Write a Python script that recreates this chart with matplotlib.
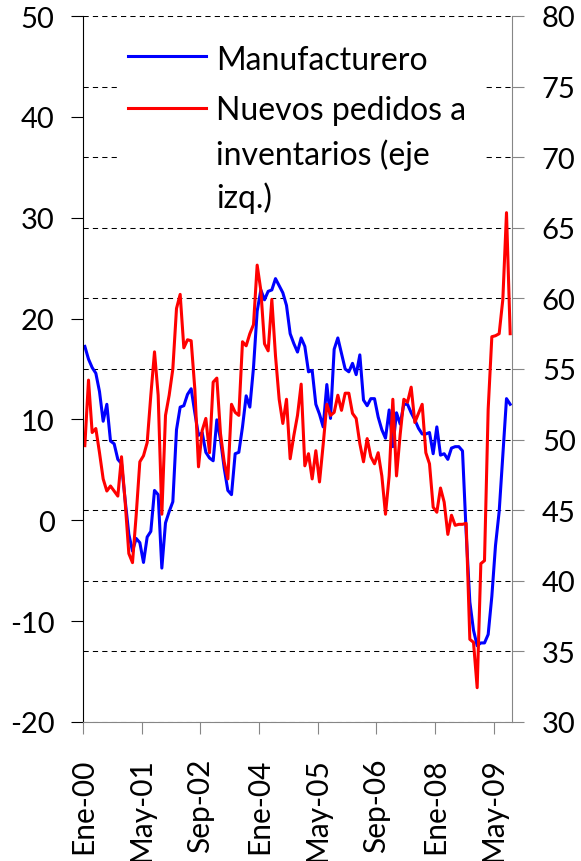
import numpy as np
import matplotlib
matplotlib.use("Agg")
import matplotlib.pyplot as plt
from matplotlib.patches import Rectangle
from matplotlib.lines import Line2D

plt.rcParams['font.family'] = ['Lato', 'DejaVu Sans']
plt.rcParams['axes.unicode_minus'] = False

# monthly data, Ene-2000 .. Sep-2009
manufacturero = [
    56.6, 55.7, 55.1, 54.7, 53.4, 51.3, 52.5, 49.9, 49.7, 48.6, 48.3, 45.7,
    43.3, 42.1, 43.0, 42.7, 41.3, 43.1, 43.5, 46.4, 46.1, 40.9, 44.1, 44.9,
    45.6, 50.7, 52.3, 52.4, 53.2, 53.6, 51.9, 50.3, 50.5, 49.1, 48.7, 48.5,
    51.4, 50.0, 48.0, 46.4, 46.1, 49.0, 49.1, 50.9, 53.1, 52.3, 55.1, 59.1,
    60.6, 59.9, 60.5, 60.6, 61.4, 60.9, 60.4, 59.5, 57.5, 56.8, 56.2, 57.2,
    56.6, 54.8, 54.9, 52.5, 51.8, 50.9, 53.9, 51.5, 56.4, 57.2, 56.1, 55.0,
    54.8, 55.4, 54.6, 56.0, 52.8, 52.4, 52.9, 52.9, 51.6, 50.7, 50.1, 52.1,
    49.5, 51.9, 51.1, 52.5, 52.5, 51.9, 51.4, 50.8, 50.4, 50.4, 50.5, 49.0,
    50.9, 48.9, 49.0, 48.6, 49.4, 49.5, 49.5, 49.2, 43.4, 38.5, 36.5, 35.4,
    35.6, 35.6, 36.2, 38.9, 42.5, 44.9, 48.9, 52.9, 52.5,
]

nuevos_pedidos = [
    7.4, 13.9, 8.7, 9.1, 6.7, 4.1, 2.9, 3.4, 2.9, 2.4, 6.3, 1.8,
    -3.3, -4.2, 0.5, 5.8, 6.4, 7.7, 12.4, 16.7, 12.4, 0.6, 10.4, 12.4,
    15.0, 21.0, 22.4, 17.1, 17.9, 17.8, 13.0, 5.3, 8.9, 10.1, 6.7, 13.7,
    14.1, 8.6, 5.8, 4.1, 11.5, 10.7, 10.4, 17.7, 17.3, 18.5, 19.4, 25.3,
    22.8, 17.5, 16.8, 21.9, 16.3, 12.0, 9.6, 12.0, 6.1, 8.4, 10.4, 13.5,
    5.4, 6.6, 4.1, 6.9, 3.8, 7.5, 11.5, 10.4, 10.7, 12.4, 10.9, 12.6,
    12.6, 10.6, 10.1, 7.6, 5.8, 8.1, 6.3, 5.6, 6.7, 4.4, 0.6, 4.4,
    12.0, 4.4, 8.5, 12.0, 11.7, 13.2, 9.7, 10.6, 11.5, 6.7, 5.6, 1.3,
    0.8, 3.2, 1.8, -1.4, 0.5, -0.5, -0.4, -0.4, -0.3, -11.8, -12.1, -16.6,
    -4.3, -4.0, 11.0, 18.2, 18.3, 18.5, 21.9, 30.5, 18.5,
]

tick_months = [0, 16, 32, 48, 64, 80, 96, 112]
tick_labels = ['Ene-00', 'May-01', 'Sep-02', 'Ene-04', 'May-05', 'Sep-06', 'Ene-08', 'May-09']
left_ticks = np.arange(-20, 51, 10)
right_ticks = np.arange(30, 81, 5)

fig = plt.figure(figsize=(5.81, 8.62), dpi=100)
fig.subplots_adjust(left=83/581, right=512/581, bottom=1-723/862, top=1-17/862)
ax = fig.add_subplot(111)
ax2 = ax.twinx()
# red series on top of the blue one
ax.set_zorder(ax2.get_zorder() + 1)
ax.patch.set_visible(False)

x = np.arange(len(nuevos_pedidos)) + 0.5
ax2.plot(x, manufacturero, color='#0000FF', lw=2.2, solid_joinstyle='round')
ax.plot(x, nuevos_pedidos, color='#FF0000', lw=2.2, solid_joinstyle='round')

ax.set_xlim(0, 117)
ax.set_ylim(-20, 50)
ax2.set_ylim(30, 80)
ax.set_yticks(left_ticks)
ax2.set_yticks(right_ticks)
ax.set_xticks(tick_months)
ax.set_xticklabels(tick_labels, rotation=90)

ax2.yaxis.grid(True, color='black', lw=0.75, linestyle=(0, (5, 4)))

for s in ['top', 'right']:
    ax.spines[s].set_visible(False)
for s in ['top', 'left', 'bottom']:
    ax2.spines[s].set_visible(False)
ax.spines['left'].set_color('black')
ax.spines['bottom'].set_color('#868686')
ax2.spines['right'].set_color('#868686')

ax.tick_params(axis='y', direction='out', length=8.5, width=0.8, color='black',
               labelsize=21, pad=12)
ax.tick_params(axis='x', direction='out', length=8.5, width=0.8, color='#868686',
               labelsize=21.5, pad=17)
ax2.tick_params(axis='y', direction='out', length=8.5, width=0.8, color='#868686',
                labelsize=21, pad=13)

# legend box drawn by hand (wrapped label as in the original)
ax.add_patch(Rectangle((0.089, 0.71), 0.843, 0.279, transform=ax.transAxes,
                       facecolor='white', edgecolor='none', zorder=5))
ax.add_line(Line2D([0.105, 0.287], [0.943, 0.943], transform=ax.transAxes,
                   color='#0000FF', lw=2.2, zorder=6))
ax.add_line(Line2D([0.105, 0.287], [0.870, 0.870], transform=ax.transAxes,
                   color='#FF0000', lw=2.2, zorder=6))
ax.text(0.31, 0.925, 'Manufacturero', transform=ax.transAxes, fontsize=23,
        va='baseline', ha='left', zorder=7)
for txt, yb in [('Nuevos pedidos a', 0.854), ('inventarios (eje', 0.790), ('izq.)', 0.729)]:
    ax.text(0.31, yb, txt, transform=ax.transAxes, fontsize=23,
            va='baseline', ha='left', zorder=7)

fig.savefig('out.png', dpi=100)
